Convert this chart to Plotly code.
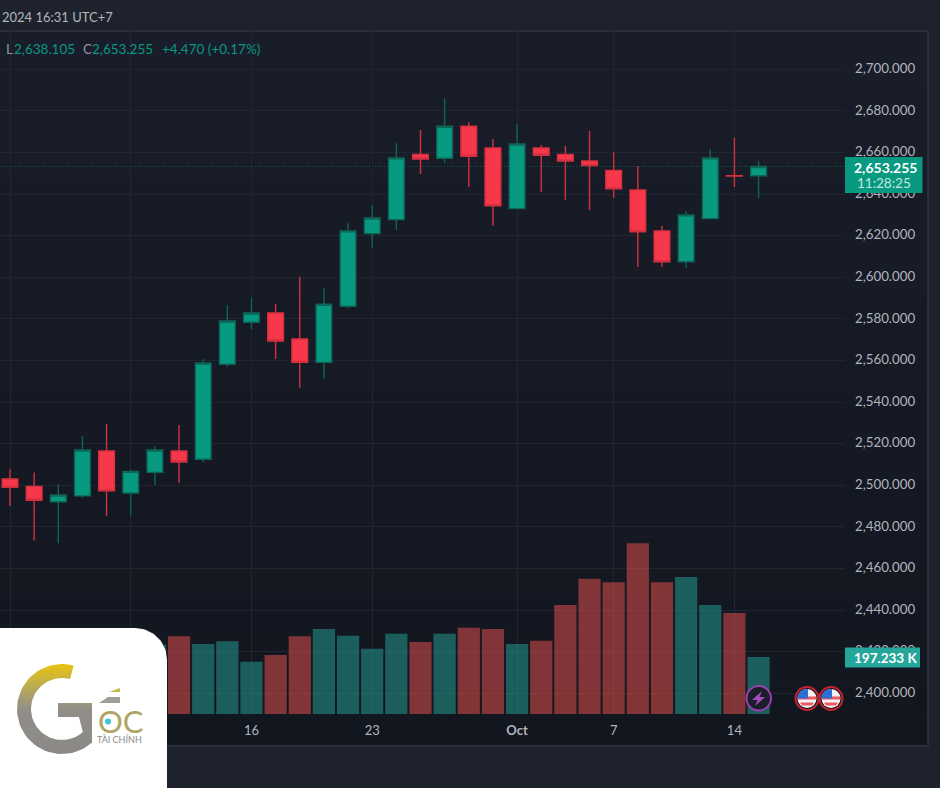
"""XAU daily candles with volume, dark trading-terminal look."""
import numpy as np
import plotly.graph_objects as go

# trading days, Sep 2 - Oct 15 2024
dates = ["09-02", "09-03", "09-04", "09-05", "09-06", "09-09", "09-10", "09-11",
         "09-12", "09-13", "09-16", "09-17", "09-18", "09-19", "09-20", "09-23",
         "09-24", "09-25", "09-26", "09-27", "09-30", "10-01", "10-02", "10-03",
         "10-04", "10-07", "10-08", "10-09", "10-10", "10-11", "10-14", "10-15"]
opens = [2503.0, 2499.5, 2492.1, 2494.9, 2516.5, 2496.3, 2506.2, 2516.5,
         2512.5, 2558.2, 2578.4, 2582.8, 2570.3, 2559.1, 2586.1, 2621.0,
         2627.7, 2659.1, 2657.2, 2672.6, 2662.2, 2633.0, 2662.2, 2659.1,
         2655.9, 2651.4, 2642.0, 2622.3, 2607.5, 2628.2, 2648.8, 2648.785]
highs = [2507.7, 2506.2, 2500.5, 2523.7, 2529.5, 2507.7, 2518.9, 2529.0,
         2560.6, 2586.5, 2590.2, 2587.3, 2600.3, 2594.9, 2626.0, 2634.8,
         2664.4, 2670.8, 2686.1, 2674.7, 2666.3, 2673.6, 2663.6, 2663.1,
         2670.3, 2660.1, 2653.4, 2624.7, 2631.9, 2661.7, 2667.1, 2655.9]
lows = [2490.0, 2473.4, 2472.1, 2494.0, 2485.1, 2485.6, 2500.1, 2501.1,
        2511.2, 2557.0, 2575.1, 2560.7, 2546.9, 2551.4, 2585.1, 2614.2,
        2622.7, 2649.7, 2655.0, 2643.4, 2624.8, 2633.0, 2641.0, 2637.2,
        2632.2, 2638.1, 2605.0, 2605.1, 2604.5, 2628.2, 2643.4, 2638.105]
closes = [2499.0, 2492.8, 2495.3, 2517.0, 2497.3, 2506.7, 2517.0, 2511.2,
          2558.8, 2579.0, 2582.8, 2569.4, 2559.1, 2587.0, 2622.3, 2628.5,
          2657.4, 2656.9, 2672.6, 2658.2, 2634.4, 2664.1, 2658.7, 2655.9,
          2653.7, 2642.5, 2621.9, 2607.5, 2630.0, 2657.4, 2648.7, 2653.255]
# first seven bars sit behind the logo card, rough guess
volumes = [250, 230, 240, 260, 270, 260, 240, 269,
           242, 252, 181, 204, 269, 294, 271, 226,
           278, 249, 278, 298, 294, 242, 253, 377,
           468, 456, 591, 456, 474, 377, 349.5, 197.233]

tick_dates = ["09-02", "09-09", "09-16", "09-23", "10-01", "10-07", "10-14"]
tick_labels = ["Sep", "9", "16", "23", "<b>Oct</b>", "7", "14"]

W, H = 940, 788
GREEN, RED = "#089981", "#f7374a"
GRID = "#21252f"
OUTER = "#1e222d"
TEXT = "#b2b5be"
FONT = "Lato"


def ring(cx, cy, r_out, r_in, a0, a1):
    """Closed ring sector in pixel coords, angles in degrees (y pointing down)."""
    a = np.radians(np.linspace(a0, a1, 60))
    xs = np.r_[cx + r_out * np.cos(a), cx + r_in * np.cos(a[::-1])]
    ys = np.r_[cy - r_out * np.sin(a), cy - r_in * np.sin(a[::-1])]
    return xs, ys


fig = go.Figure()
fig.add_trace(go.Candlestick(
    x=dates, open=opens, high=highs, low=lows, close=closes,
    increasing=dict(fillcolor=GREEN, line=dict(color="#0d6558", width=1.4)),
    decreasing=dict(fillcolor=RED, line=dict(color="#d5303f", width=1.4)),
    whiskerwidth=0, hoverinfo="skip",
))
fig.add_trace(go.Bar(
    x=dates, y=volumes, yaxis="y2", hoverinfo="skip",
    marker=dict(line_width=0, color=["rgba(38,166,154,0.5)" if c >= o else "rgba(239,83,80,0.5)"
                                     for o, c in zip(opens, closes)]),
))

# logo card, in its own pixel-scaled subplot so it covers the chart and axis labels
card_x = np.r_[0, 0, 135 + 32 * np.sin(np.linspace(0, np.pi / 2, 20)), 167, 0]
card_y = np.r_[788, 628, 660 - 32 * np.cos(np.linspace(0, np.pi / 2, 20)), 788, 788]
fig.add_trace(go.Scatter(x=card_x, y=card_y, xaxis="x3", yaxis="y3", mode="lines", line_width=0,
                         fill="toself", fillcolor="white", hoverinfo="skip"))
# the G
gx, gy = ring(62, 709, 45, 31, 75, 312)
gx = np.r_[gx[:60], 92, 92, 58, 58, 79, gx[60:]]
gy = np.r_[gy[:60], 742, 703, 703, 717, 717, gy[60:]]
fig.add_trace(go.Scatter(
    x=gx, y=gy, xaxis="x3", yaxis="y3", mode="lines", line_width=0, fill="toself", hoverinfo="skip",
    fillgradient=dict(type="vertical", colorscale=[[0, "#8b8987"], [0.5, "#918e88"], [0.72, "#b5a95c"], [1, "#eac30f"]]),
))
for wx, wy, wc in [([109, 120, 120], [692, 692, 688], "#c9b94a"),
                   ([99, 120, 120, 108], [703, 703, 697, 697], "#a09e98")]:
    fig.add_trace(go.Scatter(x=wx, y=wy, xaxis="x3", yaxis="y3", mode="lines", line_width=0,
                             fill="toself", fillcolor=wc, hoverinfo="skip"))

shapes = []
# panel background fades slightly from top to bottom
n_bands = 24
top_rgb, bot_rgb = np.array([25, 29, 41]), np.array([18, 22, 31])
for i in range(n_bands):
    y0 = 31 + (746 - 31) * i / n_bands
    y1 = 31 + (746 - 31) * (i + 1) / n_bands
    r, g, b = (top_rgb + (bot_rgb - top_rgb) * i / (n_bands - 1)).round().astype(int)
    shapes.append(dict(type="rect", xref="paper", yref="paper", layer="below", line_width=0,
                       x0=0, x1=928 / W, y0=1 - y0 / H, y1=1 - y1 / H, fillcolor=f"rgb({r},{g},{b})"))
shapes.append(dict(type="rect", xref="paper", yref="paper", layer="below", fillcolor="rgba(0,0,0,0)",
                   line=dict(color="#2a2e39", width=2), x0=-0.01, x1=928 / W, y0=1 - 31 / H, y1=1 - 746 / H))
shapes.append(dict(type="line", xref="paper", yref="y", layer="below", x0=0, x1=845 / W,
                   y0=closes[-1], y1=closes[-1], line=dict(color="rgba(8,153,129,0.5)", width=1, dash="1px,2px")))


def pixel_shape(**kw):
    shapes.append(dict(xref="x3", yref="y3", layer="above", **kw))


# last price and volume tags
pixel_shape(type="rect", x0=845, x1=922.5, y0=157, y1=193, fillcolor=GREEN, line_width=0)
pixel_shape(type="rect", x0=845, x1=920, y0=647.5, y1=667.5, fillcolor="#26a69a", line_width=0)

# event markers
pixel_shape(type="circle", x0=746.5, x1=771, y0=686, y1=710.5, fillcolor="#1a1e2a",
            line=dict(color="#9c3fae", width=2))
pixel_shape(type="path", path="M 762 691 L 752 700 L 757.5 700 L 755 706 L 765 697 L 759.5 697 Z",
            fillcolor="#a64dba", line_width=0)
for cx in [807, 831]:
    cy = 698.5
    pixel_shape(type="circle", x0=cx - 11.5, x1=cx + 11.5, y0=cy - 11.5, y1=cy + 11.5,
                fillcolor="#131722", line=dict(color="#c4222f", width=2))
    pixel_shape(type="circle", x0=cx - 9.5, x1=cx + 9.5, y0=cy - 9.5, y1=cy + 9.5,
                fillcolor="#f4f4f6", line_width=0)
    pixel_shape(type="path", path=f"M {cx - 9} {cy - 2} L {cx + 9} {cy - 2} L {cx + 9} {cy + 1} L {cx - 9} {cy + 1} Z",
                fillcolor="#f0595f", line_width=0)
    pixel_shape(type="path", path=f"M {cx - 7} {cy + 4} L {cx + 7} {cy + 4} L {cx + 5} {cy + 7} L {cx - 5} {cy + 7} Z",
                fillcolor="#f0595f", line_width=0)
    pixel_shape(type="path", path=f"M {cx - 9} {cy - 3} L {cx - 7} {cy - 7} L {cx - 3} {cy - 9} L {cx + 1} {cy - 9.5} L {cx + 1} {cy} L {cx - 9.5} {cy} Z",
                fillcolor="#2b6fd6", line_width=0)
# teal dot of the logo O
pixel_shape(type="circle", x0=105, x1=111, y0=718.5, y1=724.5, fillcolor="#3fc4c8", line_width=0)


def label(x, y, text, color=TEXT, size=13.5, anchor="left", **kw):
    return dict(xref="x3", yref="y3", x=x, y=y, text=text, showarrow=False, xanchor=anchor, yanchor="middle",
                font=dict(family=FONT, size=size, color=color), **kw)


annotations = [
    label(0, 17, "2024 16:31 UTC+7", size=13),
    label(4, 49, "L", color="#8f929c"),
    label(12, 49, "2,638.105", color=GREEN),
    label(81, 49, "C", color="#8f929c"),
    label(90, 49, "2,653.255", color=GREEN),
    label(160, 49, "+4.470 (+0.17%)", color=GREEN),
    label(885, 167, "<b>2,653.255</b>", color="white", anchor="center", size=14),
    label(883.5, 183, "11:28:25", color="#c4e6de", anchor="center"),
    label(885, 657.5, "<b>197.233 K</b>", color="white", anchor="center", size=13.5),
    label(96, 721, "OC", color="#b1a566", size=31),
    label(119.5, 739, "TÀI CHÍNH", color="#8a8a8a", size=9, anchor="center"),
]

fig.update_layout(
    width=W, height=H, autosize=False, showlegend=False, margin=dict(l=0, r=0, t=0, b=0),
    paper_bgcolor=OUTER, plot_bgcolor="rgba(0,0,0,0)", boxgap=0.07, bargap=0.08,
    font=dict(family=FONT, color=TEXT, size=13),
    shapes=shapes, annotations=annotations,
    xaxis=dict(type="category", categoryorder="array", categoryarray=dates, domain=[0, 845 / W],
               range=[-0.414, 34.58], rangeslider_visible=False, tickmode="array", tickvals=tick_dates,
               ticktext=tick_labels, showgrid=True, gridcolor=GRID, gridwidth=1, zeroline=False,
               ticks="", ticklabelstandoff=7, tickfont=dict(family=FONT, size=13, color=TEXT)),
    yaxis=dict(domain=[1 - 714 / H, 1 - 31 / H], range=[2390.05, 2718.4], side="right", dtick=20,
               tickformat=",.3f", showgrid=True, gridcolor=GRID, gridwidth=1, zeroline=False,
               ticks="", ticklabelstandoff=9, ticklabelshift=-1, tickfont=dict(family=FONT, size=13.3, color=TEXT)),
    yaxis2=dict(domain=[1 - 714 / H, 1 - 31 / H], overlaying="y", range=[0, 2363], visible=False),
    xaxis3=dict(domain=[0, 1], range=[0, W], anchor="y3", visible=False, fixedrange=True),
    yaxis3=dict(domain=[0, 1], range=[H, 0], anchor="x3", visible=False, fixedrange=True),
)

fig.write_html("out.html", config=dict(displayModeBar=False),
               post_script="document.body.style.margin='0';")
